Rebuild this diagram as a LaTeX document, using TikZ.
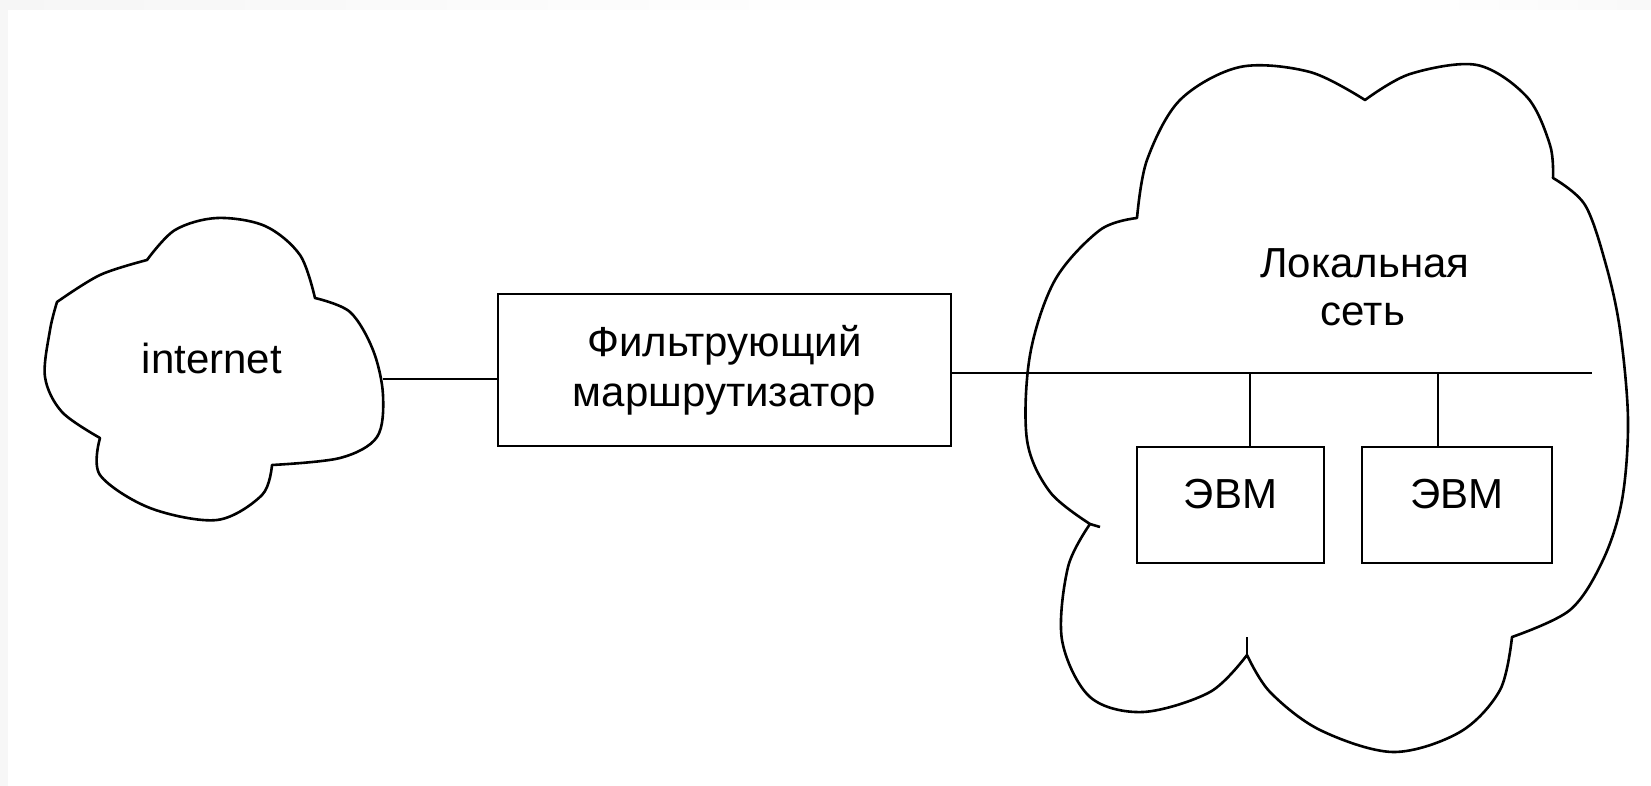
\documentclass[tikz,border=0pt]{standalone}
\usepackage{fontspec}
\setmainfont{Liberation Sans}
\begin{document}
\begin{tikzpicture}[x=1pt,y=-1pt,
  box/.style={draw, line width=2.6pt, rectangle, inner sep=0pt, align=center,
    font=\fontsize{42pt}{50pt}\selectfont},
  lbl/.style={inner sep=0pt, font=\fontsize{42pt}{50pt}\selectfont},
  wire/.style={line width=2.4pt},
  cloudline/.style={line width=2.6pt, line join=round}]
\useasboundingbox (0,0) rectangle (1651,786);
% light scan border
\fill[gray!6] (0,0) rectangle (8,786);
\shade[left color=gray!7, right color=white] (0,0) rectangle (900,10);
\shade[left color=white, right color=gray!5] (1400,0) rectangle (1651,10);

% internet cloud
\draw[cloudline]
  plot[smooth,tension=.55] coordinates {(147,260) (175,230) (217,218) (265,226) (300,255) (315,298)}
  -- plot[smooth,tension=.55] coordinates {(315,298) (350,312) (373,350) (383,395) (377,437) (340,458) (272,465)}
  -- plot[smooth,tension=.55] coordinates {(272,465) (262,495) (217,520) (150,508) (100,475) (100,438)}
  -- plot[smooth,tension=.55] coordinates {(100,438) (62,412) (45,377) (50,330) (57,302)}
  -- plot[smooth,tension=.55] coordinates {(57,302) (100,275) (147,260)}
  -- cycle;
\node[lbl, anchor=base] (inet) at (212,373) {internet};

% LAN cloud
\draw[cloudline]
  plot[smooth,tension=.55] coordinates {(1137,218) (1147,160) (1180,100) (1240,67) (1310,72) (1365,100)}
  -- plot[smooth,tension=.55] coordinates {(1365,100) (1410,74) (1477,65) (1527,97) (1550,145) (1553,178)}
  -- plot[smooth,tension=.55] coordinates {(1553,178) (1585,205) (1606,265) (1620,330) (1628,420) (1622,500) (1603,560) (1570,610) (1512,637)}
  -- plot[smooth,tension=.55] coordinates {(1512,637) (1500,690) (1460,732) (1393,752) (1320,730) (1270,692) (1247,655)}
  -- plot[smooth,tension=.55] coordinates {(1247,655) (1210,692) (1143,712) (1090,697) (1062,640) (1068,567) (1090,524)}
  -- plot[smooth,tension=.55] coordinates {(1090,524) (1050,492) (1027,440) (1030,355) (1055,280) (1100,230) (1137,218)}
  -- cycle;
\draw[cloudline] (1090,524) -- (1100,527);
\draw[cloudline] (1247,655) -- (1247,637);
\node[lbl, anchor=base] (lan1) at (1365,278) {Локальная};
\node[lbl, anchor=base] (lan2) at (1363,325) {сеть};

% router
\node[box, minimum width=453pt, minimum height=152pt] (router) at (724.5,370) {Фильтрующий\\маршрутизатор};

% computers
\node[box, minimum width=187pt, minimum height=116pt, text height=29pt, text depth=23pt] (pc1) at (1230.5,505) {ЭВМ};
\node[box, minimum width=190pt, minimum height=116pt, text height=29pt, text depth=23pt] (pc2) at (1457,505) {ЭВМ};

% connectors
\coordinate (inetR) at (383,379);
\draw[wire] (inetR) -- (inetR -| router.west);
\coordinate (busEnd) at (1592,373);
\draw[wire] (busEnd -| router.east) -- (busEnd);
\coordinate (tap1) at (1250,373);
\draw[wire] (tap1) -- (tap1 |- pc1.north);
\coordinate (tap2) at (1438,373);
\draw[wire] (tap2) -- (tap2 |- pc2.north);
\end{tikzpicture}
\end{document}
